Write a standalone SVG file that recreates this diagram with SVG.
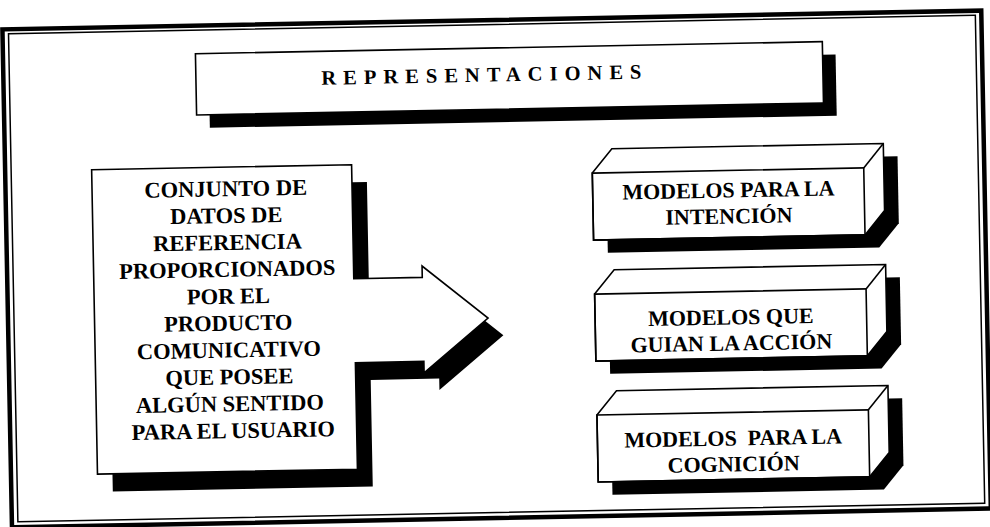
<svg xmlns="http://www.w3.org/2000/svg" width="990" height="527" viewBox="0 0 990 527">
<defs>
<style>
.ln{fill:#fff;stroke:#000;stroke-width:1.6;stroke-linejoin:miter}
.nf{fill:none;stroke:#000;stroke-width:1.6}
.sh{fill:#000;stroke:none}
.t{font-family:"Liberation Serif","Times New Roman",serif;font-weight:bold;fill:#000;text-anchor:middle}
</style>
</defs>
<rect width="990" height="527" fill="#fff"/>
<g transform="rotate(-1.1 495 263)">
 <g id="frame">
  <rect x="7" y="20" width="979" height="498" fill="none" stroke="#000" stroke-width="4.5"/>
  <rect x="13" y="24.5" width="967" height="488" fill="none" stroke="#000" stroke-width="1.5"/>
 </g>
 <g id="representaciones">
  <rect class="sh" x="212.5" y="61" width="627" height="61.3"/>
  <rect class="ln" x="199.5" y="48" width="627" height="61.3"/>
  <text class="t" x="325" y="81.5" style="text-anchor:start" font-size="20.5" textLength="320" lengthAdjust="spacing">REPRESENTACIONES</text>
 </g>
 <g id="conjunto-datos">
  <path class="sh" transform="translate(15 17.5)" d="M93.5,162 H353.5 V276 H422 V264.6 L487,318 L422,371.4 V360 H353.5 V466.5 H93.5 Z"/>
  <path class="ln" d="M93.5,162 H353.5 V276 H422 V264.6 L487,318 L422,371.4 V360 H353.5 V466.5 H93.5 Z"/>
  <text class="t" font-size="22.5">
   <tspan x="230" y="191">CONJUNTO DE</tspan>
   <tspan x="230" y="217.9">DATOS DE</tspan>
   <tspan x="230" y="244.8">REFERENCIA</tspan>
   <tspan x="230" y="271.7">PROPORCIONADOS</tspan>
   <tspan x="230" y="298.6">POR EL</tspan>
   <tspan x="230" y="325.5">PRODUCTO</tspan>
   <tspan x="230" y="352.4">COMUNICATIVO</tspan>
   <tspan x="230" y="379.3">QUE POSEE</tspan>
   <tspan x="230" y="406.2">ALGÚN SENTIDO</tspan>
   <tspan x="230" y="433.1">PARA EL USUARIO</tspan>
  </text>
 </g>
 <g id="modelos-intencion">
  <polygon class="sh" points="608,188 628,164 899.5,164 899.5,231 879.5,255 608,255"/>
  <polygon class="ln" points="594,175 614,151 885.5,151 885.5,218 865.5,242 594,242"/>
  <rect class="nf" x="594" y="175" width="271.5" height="67"/>
  <line class="nf" x1="865.5" y1="175" x2="885.5" y2="151"/>
  <text class="t" font-size="22"><tspan x="729.75" y="202">MODELOS PARA LA</tspan><tspan x="729.75" y="228">INTENCIÓN</tspan></text>
 </g>
 <g id="modelos-accion">
  <polygon class="sh" points="608,309 628,285 899.5,285 899.5,352 879.5,376 608,376"/>
  <polygon class="ln" points="594,296 614,272 885.5,272 885.5,339 865.5,363 594,363"/>
  <rect class="nf" x="594" y="296" width="271.5" height="67"/>
  <line class="nf" x1="865.5" y1="296" x2="885.5" y2="272"/>
  <text class="t" font-size="22"><tspan x="729.75" y="329">MODELOS QUE</tspan><tspan x="729.75" y="355">GUIAN LA ACCIÓN</tspan></text>
 </g>
 <g id="modelos-cognicion">
  <polygon class="sh" points="608,430 628,406 899.5,406 899.5,473 879.5,497 608,497"/>
  <polygon class="ln" points="594,417 614,393 885.5,393 885.5,460 865.5,484 594,484"/>
  <rect class="nf" x="594" y="417" width="271.5" height="67"/>
  <line class="nf" x1="865.5" y1="417" x2="885.5" y2="393"/>
  <text class="t" font-size="22" xml:space="preserve"><tspan x="729.75" y="450">MODELOS  PARA LA</tspan><tspan x="729.75" y="476">COGNICIÓN</tspan></text>
 </g>
 <g id="connectors"/>
</g>
</svg>
